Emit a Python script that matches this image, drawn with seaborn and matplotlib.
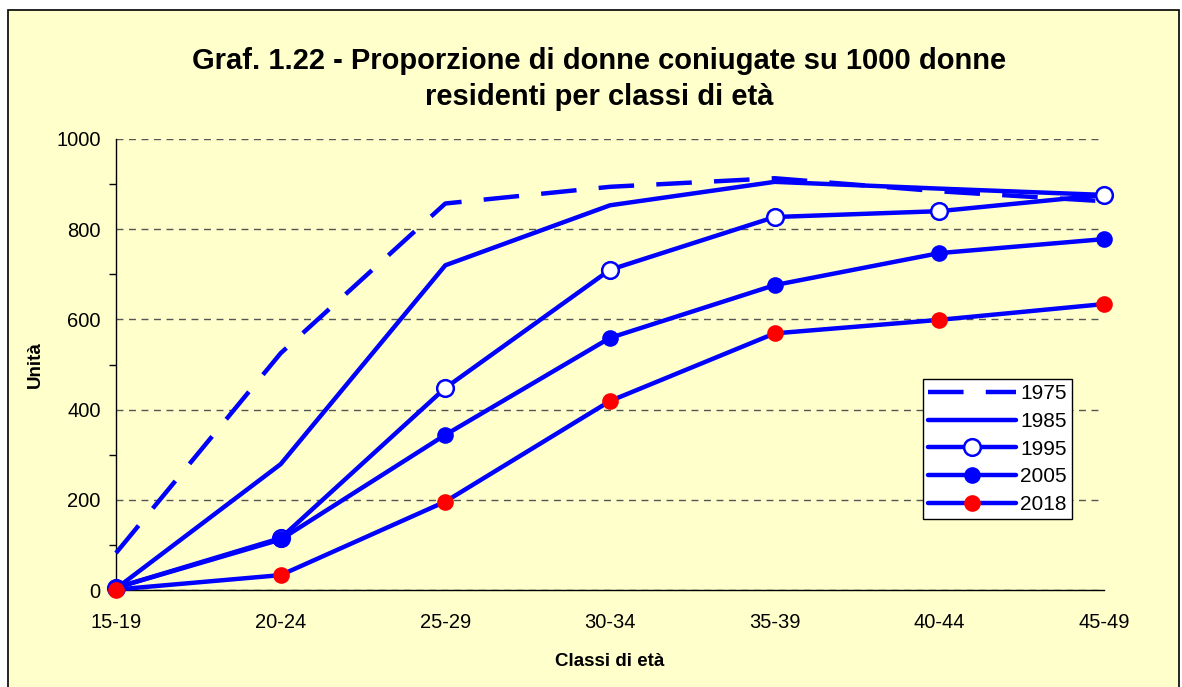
import numpy as np
import pandas as pd
import matplotlib
matplotlib.use("Agg")
import matplotlib.pyplot as plt
import matplotlib.patches as mpatches
import seaborn as sns

# classi di eta' e valori (per 1000 donne)
classi = ["15-19", "20-24", "25-29", "30-34", "35-39", "40-44", "45-49"]
anni = ["1975", "1985", "1995", "2005", "2018"]
v1975 = [82, 525, 857, 894, 913, 884, 862]
v1985 = [3, 279, 720, 853, 905, 890, 876]
v1995 = [5, 115, 448, 710, 827, 840, 876]
v2005 = [5, 112, 344, 559, 676, 747, 778]
v2018 = [1, 33, 196, 419, 569, 599, 634]

df = pd.DataFrame({
    "pos": list(range(len(classi))) * len(anni),
    "classe": classi * len(anni),
    "anno": np.repeat(anni, len(classi)),
    "valore": v1975 + v1985 + v1995 + v2005 + v2018,
})

sns.set_style("white")
plt.rcParams["font.family"] = ["Liberation Sans", "DejaVu Sans"]
plt.rcParams["text.color"] = "black"
plt.rcParams["axes.labelcolor"] = "black"

BLUE = "#0000FF"
BG = "#FFFFCC"

fig = plt.figure(figsize=(11.82, 6.87), dpi=100)
fig.patch.set_facecolor("white")
fondo = mpatches.Rectangle((8 / 1182, -0.01), 1171 / 1182, 1 - 10 / 687 + 0.01,
                           transform=fig.transFigure, facecolor=BG,
                           edgecolor="black", lw=1.2, zorder=-10)
fig.patches.append(fondo)
ax = fig.add_axes([116 / 1182, 1 - 590 / 687, 988 / 1182, 451 / 687])
ax.set_facecolor("none")

stili = {
    "1975": dict(dashes=(8, 5), marker=None),
    "1985": dict(marker=None),
    "1995": dict(marker="o", markerfacecolor="white", markeredgecolor=BLUE, markeredgewidth=1.8),
    "2005": dict(marker="o", markerfacecolor=BLUE, markeredgecolor=BLUE, markeredgewidth=0),
    "2018": dict(marker="o", markerfacecolor="#FF0000", markeredgecolor="#FF0000", markeredgewidth=0),
}

for anno in anni:
    sub = df[df["anno"] == anno]
    st = dict(stili[anno])
    dashes = st.pop("dashes", None)
    sns.lineplot(data=sub, x="pos", y="valore", ax=ax, color=BLUE, lw=3.2,
                 markersize=12, label=anno, clip_on=False, zorder=3, **st)
    if dashes:
        ax.lines[-1].set_dashes(dashes)

ax.set_xlim(0, 6)
ax.set_ylim(0, 1000)
ax.set_xticks(range(len(classi)))
ax.set_xticklabels(classi)
ax.set_yticks(range(0, 1001, 200))
ax.set_yticks(range(100, 1000, 200), minor=True)
ax.tick_params(axis="both", labelsize=14.5, labelcolor="black", direction="out")
ax.tick_params(axis="x", direction="inout", length=9, width=1, color="#555555", pad=12)
ax.tick_params(axis="y", which="major", length=6, width=1, color="black", pad=5)
ax.tick_params(axis="y", which="minor", length=5, width=1, color="black", left=True)
ax.yaxis.grid(True, linestyle=(0, (5, 4)), color="#555555", lw=1)
ax.set_axisbelow(True)
for s in ["top", "right"]:
    ax.spines[s].set_visible(False)
for s in ["left", "bottom"]:
    ax.spines[s].set_color("black")
    ax.spines[s].set_linewidth(1)

ax.set_xlabel("Classi di età", fontsize=13.5, fontweight="bold", labelpad=15)
ax.set_ylabel("Unità", fontsize=13.5, fontweight="bold", labelpad=9)

fig.text(0.507, 0.885, "Graf. 1.22 - Proporzione di donne coniugate su 1000 donne\nresidenti per classi di età",
         ha="center", va="center", fontsize=21, fontweight="bold", linespacing=1.4)

leg = ax.legend(loc="upper left", bbox_to_anchor=(0.817, 0.468), fontsize=15,
                frameon=True, fancybox=False, edgecolor="black", framealpha=1,
                handlelength=4.2, handletextpad=0.2, labelspacing=0.42,
                borderpad=0.25, borderaxespad=0)
leg.get_frame().set_linewidth(1)

fig.savefig("out.png", dpi=100, facecolor=fig.get_facecolor())
